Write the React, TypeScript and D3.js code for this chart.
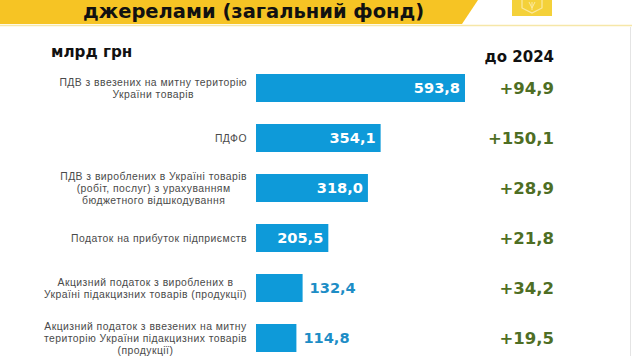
import React from "react";
import * as d3 from "d3";

const W = 632;
const H = 356;

const title = "джерелами (загальний фонд)";
const unitLabel = "млрд грн";
const deltaHeader = "до 2024";

const categories = [
  "ПДВ з ввезених на митну територію\nУкраїни товарів",
  "ПДФО",
  "ПДВ з вироблених в Україні товарів\n(робіт, послуг) з урахуванням\nбюджетного відшкодування",
  "Податок на прибуток підприємств",
  "Акцизний податок з вироблених в\nУкраїні підакцизних товарів (продукції)",
  "Акцизний податок з ввезених на митну\nтериторію України підакцизних товарів\n(продукції)",
];
const values = [593.8, 354.1, 318.0, 205.5, 132.4, 114.8];
const deltas = [94.9, 150.1, 28.9, 21.8, 34.2, 19.5];

const BLUE = "#0E9AD9";
const BLUE_TEXT = "#1D8DC6";
const GREEN = "#4E6E24";
const YELLOW = "#F6C424";

const LABEL_FAMILY = "'Liberation Sans', Arial, sans-serif";
const LABEL_SIZE = 10.4;
const LABEL_SPACING = 0.45;
const LABEL_FONT = `${LABEL_SIZE}px ${LABEL_FAMILY}`;
const NUM_FONT = "DejaVu Sans";

const fmt = (v: number) => v.toFixed(1).replace(".", ",");

let ctx: CanvasRenderingContext2D | null = null;
function measure(text: string, font: string, spacing = 0) {
  if (!ctx) ctx = document.createElement("canvas").getContext("2d");
  if (!ctx) return text.length * 5.5;
  ctx.font = font;
  return ctx.measureText(text).width + spacing * text.length;
}

export default function App() {
  const x = d3.scaleLinear().domain([0, d3.max(values) as number]).range([256, 465]);
  const y = d3
    .scaleBand<string>()
    .domain(categories)
    .range([63, 363])
    .paddingInner(0.44)
    .paddingOuter(0.22);

  const labelRight = 247;
  const lineH = 12;

  return (
    <svg
      width={W}
      height={H}
      viewBox={`0 0 ${W} ${H}`}
      style={{ position: "absolute", left: 0, top: 0, background: "#fff" }}
    >
      {/* banner */}
      <path d="M0,0 L478,0 L462,24 L0,24 Z" fill={YELLOW} />
      <line x1={0} x2={W} y1={25.5} y2={25.5} stroke="#F6E7A8" strokeWidth={1.5} />
      <rect x={512} y={0} width={40} height={16} fill="#F4D13A" />
      <path
        d="M522,0 L522,8 L532,13 L542,8 L542,0"
        fill="none"
        stroke="#FBE9A0"
        strokeWidth={1.2}
      />
      <path d="M529,2 L532,8 L535,2 M532,2 L532,10" fill="none" stroke="#FBE9A0" strokeWidth={1} />
      <text
        x={83}
        y={17.5}
        fontFamily={NUM_FONT}
        fontWeight="bold"
        fontSize={19.5}
        fill="#111"
      >
        {title}
      </text>

      {/* right border line */}
      <line x1={630.5} x2={630.5} y1={27} y2={H} stroke="#E4E4E4" strokeWidth={1} />

      {/* headers */}
      <text x={51} y={57} fontFamily={NUM_FONT} fontWeight="bold" fontSize={15.2} fill="#111">
        {unitLabel}
      </text>
      <text
        x={554}
        y={62}
        textAnchor="end"
        fontFamily={NUM_FONT}
        fontWeight="bold"
        fontSize={15}
        fill="#111"
      >
        {deltaHeader}
      </text>

      {categories.map((c, i) => {
        const lines = c.split("\n");
        const maxW = d3.max(lines, (l) => measure(l, LABEL_FONT, LABEL_SPACING)) as number;
        const cx = labelRight - maxW / 2;
        const yc = (y(c) as number) + y.bandwidth() / 2;
        const y0 = yc - ((lines.length - 1) * lineH) / 2;
        const v = values[i];
        const barEnd = x(v);
        const valText = fmt(v);
        const valW = measure(valText, `bold 14.6px '${NUM_FONT}'`);
        const inside = barEnd - x(0) > valW + 14;
        return (
          <g key={i}>
            <text
              textAnchor="middle"
              fontFamily={LABEL_FAMILY}
              fontSize={LABEL_SIZE}
              letterSpacing={LABEL_SPACING}
              fill="#4a4a4a"
            >
              {lines.map((l, j) => (
                <tspan key={j} x={cx} y={y0 + j * lineH} dy="0.35em">
                  {l}
                </tspan>
              ))}
            </text>
            <rect
              x={x(0)}
              y={y(c)}
              width={barEnd - x(0)}
              height={y.bandwidth()}
              fill={BLUE}
            />
            <text
              x={inside ? barEnd - 5 : barEnd + 7}
              y={yc}
              dy="0.36em"
              textAnchor={inside ? "end" : "start"}
              fontFamily={NUM_FONT}
              fontWeight="bold"
              fontSize={14.6}
              fill={inside ? "#fff" : BLUE_TEXT}
            >
              {valText}
            </text>
            <text
              x={554}
              y={yc}
              dy="0.36em"
              textAnchor="end"
              fontFamily={NUM_FONT}
              fontWeight="bold"
              fontSize={16.5}
              fill={GREEN}
            >
              {"+" + fmt(deltas[i])}
            </text>
          </g>
        );
      })}
    </svg>
  );
}
